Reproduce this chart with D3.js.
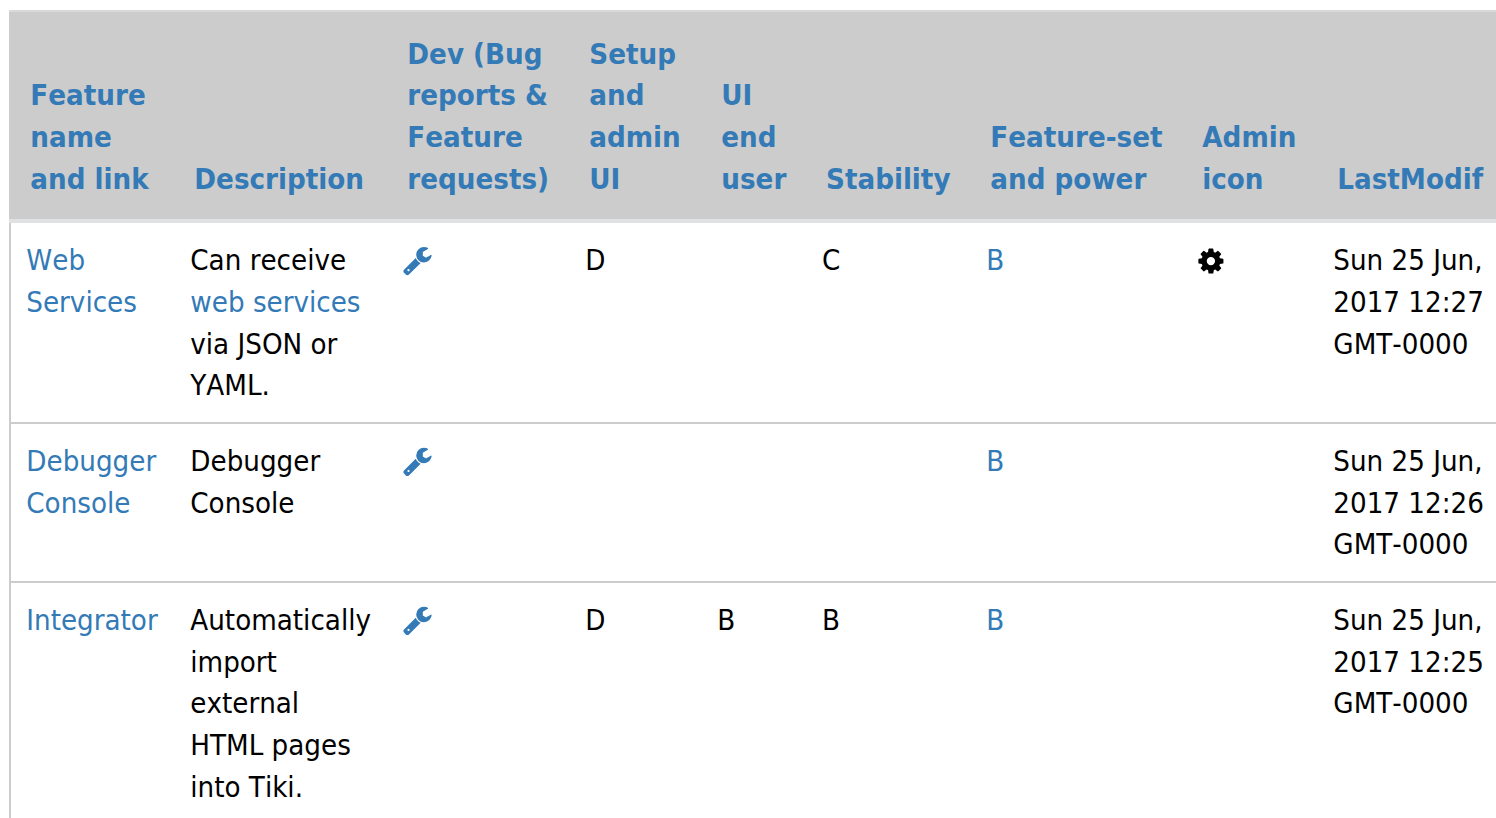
<!DOCTYPE html>
<html><head><meta charset="utf-8">
<script src="https://cdn.jsdelivr.net/npm/d3@7"></script>
<style>html,body{margin:0;padding:0;background:#fff;overflow:hidden}svg{display:block}text{font-family:"DejaVu Sans Condensed","DejaVu Sans";font-size:29.17px;font-kerning:none}</style>
</head><body><script>
const columns=["feature","description","dev","setup","ui","stability","featureset","admin","modif"];
const headers=[["Feature","name","and link"],["Description"],["Dev (Bug","reports &","Feature","requests)"],["Setup","and","admin","UI"],["UI","end","user"],["Stability"],["Feature-set","and power"],["Admin","icon"],["LastModif"]];
const featureNames=[["Web","Services"],["Debugger","Console"],["Integrator"]];
const descriptions=[[["Can receive",0],["web services",1],["via JSON or",0],["YAML.",0]],[["Debugger",0],["Console",0]],[["Automatically",0],["import",0],["external",0],["HTML pages",0],["into Tiki.",0]]];
const setupGrades=["D","","D"];
const uiGrades=["","","B"];
const stabilityGrades=["C","","B"];
const featureGrades=["B","B","B"];
const adminIcons=[1,0,0];
const modified=[["Sun 25 Jun,","2017 12:27","GMT-0000"],["Sun 25 Jun,","2017 12:26","GMT-0000"],["Sun 25 Jun,","2017 12:25","GMT-0000"]];

const W=1496,H=818,blue="#337ab7",grey="#cccccc";
const headX=[30.3,194.3,407.3,589.3,721.3,826,990.3,1202.3,1337.3];
const x=d3.scaleOrdinal(columns,headX);
const lineH=41.72;
const svg=d3.select("body").append("svg").attr("width",W).attr("height",H);
const wrench="M384 1472q0-26-19-45t-45-19-45 19-19 45 19 45 45 19 45-19 19-45zm644-420l-682 682q-37 37-90 37-52 0-91-37l-106-108q-38-36-38-90 0-53 38-91l681-681q39 98 114.5 173.5t173.5 114.5zm634-435q0 39-23 106-47 134-164.5 217.5t-258.5 83.5q-185 0-316.5-131.5t-131.5-316.5 131.5-316.5 316.5-131.5q58 0 121.5 16.5t107.5 46.5q16 11 16 28t-16 28l-293 169v224l193 106q5-3 79-48.5t135.5-81 70.5-35.5q15 0 23.5 10t8.5 25z";
const gear="M1152 896q0-106-75-181t-181-75-181 75-75 181 75 181 181 75 181-75 75-181zm512-109v222q0 12-8 23t-20 13l-185 28q-19 54-39 91 35 50 107 138 10 12 10 25t-9 23q-27 37-99 108t-94 71q-12 0-26-9l-138-108q-44 23-91 38-16 136-29 186-7 28-36 28h-222q-14 0-24.5-8.5t-11.5-21.5l-28-184q-49-16-90-37l-141 107q-10 9-25 9-14 0-25-11-126-114-165-168-7-10-7-23 0-12 8-23 15-21 51-66.5t54-70.5q-27-50-41-99l-183-27q-13-2-21-12.5t-8-23.5v-222q0-12 8-23t19-13l186-28q14-46 39-92-40-57-107-138-10-12-10-24 0-10 9-23 26-36 98.5-107.5t94.5-71.5q13 0 26 10l138 107q44-23 91-38 16-136 29-186 7-28 36-28h222q14 0 24.5 8.5t11.5 21.5l28 184q49 16 90 37l142-107q9-9 24-9 13 0 25 10 129 119 165 170 7 8 7 22 0 12-8 23-15 21-51 66.5t-54 70.5q26 50 41 98l183 28q13 2 21 12.5t8 23.5z";

svg.append("rect").attr("x",9).attr("y",11).attr("width",W-9).attr("height",209).attr("fill",grey);
svg.append("rect").attr("x",9).attr("y",10).attr("width",W-9).attr("height",2).attr("fill","#d9d9d9");
svg.append("rect").attr("x",9).attr("y",219).attr("width",W-9).attr("height",4).attr("fill","#dfe1e3");
svg.append("rect").attr("x",9).attr("y",223).attr("width",2).attr("height",H-223).attr("fill",grey);
const rowTops=[223,423.8,582.8];
svg.selectAll("rect.rowline").data(rowTops.slice(1)).join("rect").attr("class","rowline")
  .attr("x",11).attr("y",d=>Math.round(d)-2).attr("width",W-11).attr("height",2).attr("fill",grey);

const headBase=188.8;
svg.selectAll("g.th").data(columns).join("g").attr("class","th")
 .attr("transform",c=>`translate(${x(c)},0)`)
 .each(function(c,i){
   const ls=headers[i];
   d3.select(this).selectAll("text").data(ls).join("text")
     .attr("y",(d,j)=>headBase-(ls.length-1-j)*lineH)
     .attr("fill",blue).style("font-weight","bold").text(d=>d);
 });

const cell=c=>x(c)-4;
const rows=svg.selectAll("g.tr").data(rowTops).join("g").attr("class","tr").attr("transform",d=>`translate(0,${d})`);
const lines=(sel,c,ls,color)=>sel.append("g").selectAll("text").data(ls).join("text")
   .attr("x",cell(c)).attr("y",(d,j)=>47.2+j*lineH).attr("fill",d=>color(d)).text(d=>Array.isArray(d)?d[0]:d);
rows.each(function(_,r){
  const g=d3.select(this);
  lines(g,"feature",featureNames[r],()=>blue);
  lines(g,"description",descriptions[r],d=>d[1]?blue:"#000");
  g.append("path").attr("d",wrench).attr("fill",blue).attr("transform",`translate(${cell("dev")-0.3},${21.8}) scale(0.0172)`);
  lines(g,"setup",setupGrades[r]?[setupGrades[r]]:[],()=>"#000");
  lines(g,"ui",uiGrades[r]?[uiGrades[r]]:[],()=>"#000");
  lines(g,"stability",stabilityGrades[r]?[stabilityGrades[r]]:[],()=>"#000");
  lines(g,"featureset",[featureGrades[r]],()=>blue);
  if(adminIcons[r]) g.append("path").attr("d",gear).attr("fill","#000").attr("transform",`translate(${cell("admin")-2},${23.5}) scale(0.0163)`);
  lines(g,"modif",modified[r],()=>"#000");
});
</script></body></html>
